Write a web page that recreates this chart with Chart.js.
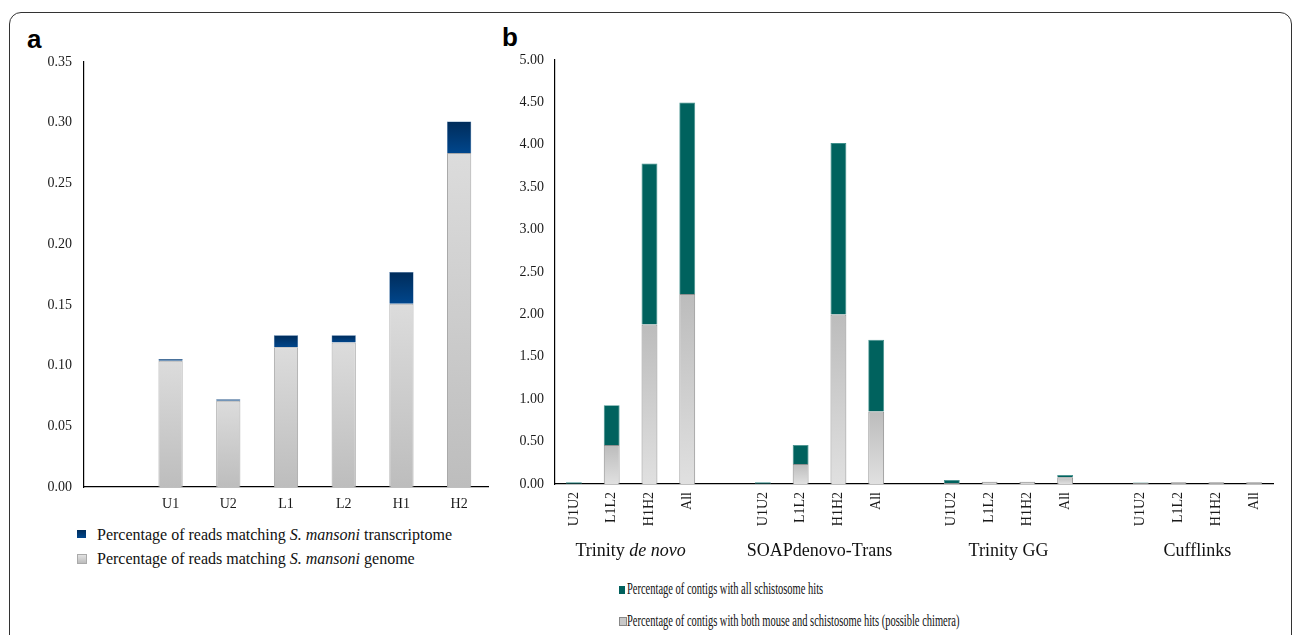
<!DOCTYPE html>
<html lang="en">

<head>
    <meta charset="UTF-8">
    <title>Schistosome reads and contigs</title>
    <style>
        html, body { margin: 0; padding: 0; background: #fff; overflow: hidden; }
        body { width: 1296px; height: 635px; position: relative; font-family: 'Liberation Serif', 'Times New Roman', serif; color: #111; }
        .frame { position: absolute; left: 9px; top: 12px; width: 1281px; height: 660px; border: 1.5px solid #333; border-radius: 12px; }
        .panel-tag { position: absolute; font: bold 26px 'Liberation Sans', Arial, sans-serif; color: #000; }
        .box { position: absolute; }
        .leg { position: absolute; white-space: nowrap; }
        .sw { position: absolute; }
        .cond { display: inline-block; transform: scaleX(0.655); transform-origin: 0 50%; font-size: 16px; }
    </style>
</head>

<body>
    <div class="frame"></div>
    <div class="panel-tag" style="left:27px; top:24px;">a</div>
    <div class="panel-tag" style="left:502px; top:22px;">b</div>

    <div class="box" style="left:0px; top:40px; width:500px; height:480px;">
        <canvas id="chartA"></canvas>
    </div>
    <div class="box" style="left:500px; top:40px; width:790px; height:540px;">
        <canvas id="chartB"></canvas>
    </div>

    <!-- legend a -->
    <div class="sw" style="left:77px; top:530px; width:9px; height:8px; background:linear-gradient(#002c5a,#00468c);"></div>
    <div class="leg" style="left:97px; top:526px; font-size:16px;">Percentage of reads matching <i>S. mansoni</i> transcriptome</div>
    <div class="sw" style="left:77px; top:554px; width:8px; height:8px; background:linear-gradient(#e2e2e2,#bcbcbc); border:0.5px solid #aaa;"></div>
    <div class="leg" style="left:97px; top:550px; font-size:16px;">Percentage of reads matching <i>S. mansoni</i> genome</div>

    <!-- legend b -->
    <div class="sw" style="left:619px; top:586px; width:6px; height:8px; background:#00605c;"></div>
    <div class="leg" style="left:627px; top:580px;"><span class="cond">Percentage of contigs with all schistosome hits</span></div>
    <div class="sw" style="left:619px; top:617px; width:6px; height:7px; background:#c8c8c8; border:0.5px solid #888;"></div>
    <div class="leg" style="left:627px; top:612px;"><span class="cond">Percentage of contigs with both mouse and schistosome hits (possible chimera)</span></div>

    <script src="https://cdn.jsdelivr.net/npm/chart.js/dist/chart.umd.min.js"></script>
    <script>
        // ---- panel a data ----
        const samplesA = ['', 'U1', 'U2', 'L1', 'L2', 'H1', 'H2'];
        const genomeA = [null, 0.104, 0.071, 0.115, 0.119, 0.151, 0.275];
        const transcriptomeA = [null, 0.0015, 0.0012, 0.010, 0.006, 0.026, 0.026];

        // ---- panel b data ----
        const libsB = ['U1U2', 'L1L2', 'H1H2', 'All'];
        const assemblersB = ['Trinity de novo', 'SOAPdenovo-Trans', 'Trinity GG', 'Cufflinks'];
        // possible chimera (grey, bottom)
        const chimeraTrinity = [0.003, 0.46, 1.88, 2.24];
        const chimeraSoap = [0.003, 0.235, 2.00, 0.855];
        const chimeraGG = [0.012, 0.027, 0.027, 0.08];
        const chimeraCuff = [0.012, 0.02, 0.02, 0.02];
        // all schistosome hits (teal, top)
        const schistoTrinity = [0.017, 0.47, 1.90, 2.26];
        const schistoSoap = [0.017, 0.225, 2.02, 0.845];
        const schistoGG = [0.035, 0, 0, 0.027];
        const schistoCuff = [0.006, 0, 0, 0];

        Chart.defaults.font.family = "'Liberation Serif', 'Times New Roman', serif";
        Chart.defaults.color = '#1a1a1a';
        Chart.defaults.animation = false;

        // vertical gradient for one bar, from value v0 to v1
        function barGrad(ctx, v0, v1, cTop, cBot, fallback) {
            const chart = ctx.chart;
            const y = chart.scales.y;
            if (!y || v1 == null) return fallback;
            const top = y.getPixelForValue(v1), bot = y.getPixelForValue(v0);
            if (!isFinite(top) || !isFinite(bot) || top === bot) return fallback;
            const g = chart.ctx.createLinearGradient(0, top, 0, bot);
            g.addColorStop(0, cTop);
            g.addColorStop(1, cBot);
            return g;
        }

        // ---- chart a ----
        new Chart(document.getElementById('chartA'), {
            type: 'bar',
            data: {
                labels: samplesA,
                datasets: [{
                    label: 'Percentage of reads matching S. mansoni genome',
                    data: genomeA,
                    backgroundColor: (c) => barGrad(c, 0, genomeA[c.dataIndex], '#dcdcdc', '#bdbdbd', '#cfcfcf'),
                    borderColor: '#a8a8a8',
                    borderWidth: 1,
                    borderSkipped: 'bottom',
                    categoryPercentage: 1,
                    barPercentage: 0.42
                }, {
                    label: 'Percentage of reads matching S. mansoni transcriptome',
                    data: transcriptomeA,
                    backgroundColor: (c) => {
                        const g = genomeA[c.dataIndex];
                        return barGrad(c, g, g + transcriptomeA[c.dataIndex], '#002c5a', '#00468c', '#003a78');
                    },
                    borderColor: '#2a5f99',
                    borderWidth: 0.5,
                    categoryPercentage: 1,
                    barPercentage: 0.42
                }]
            },
            options: {
                responsive: true,
                maintainAspectRatio: false,
                layout: { padding: { top: 22, right: 12, left: 0, bottom: 0 } },
                plugins: { legend: { display: false }, tooltip: { enabled: false } },
                scales: {
                    x: {
                        stacked: true,
                        grid: { display: false, drawTicks: false },
                        border: { display: true, color: '#000', width: 1.2 },
                        ticks: { font: { size: 14 }, padding: 9, autoSkip: false, maxRotation: 0 },
                        afterFit: (s) => { s.height = 33; }
                    },
                    y: {
                        stacked: true,
                        min: 0,
                        max: 0.35,
                        grid: { display: false, drawTicks: false },
                        border: { display: true, color: '#000', width: 1.2 },
                        ticks: { stepSize: 0.05, font: { size: 14 }, padding: 12, callback: (v) => v.toFixed(2) },
                        afterFit: (s) => { s.width = 84; }
                    }
                }
            }
        });

        // ---- chart b ----
        const chimeraGroups = [chimeraTrinity, chimeraSoap, chimeraGG, chimeraCuff];
        const schistoGroups = [schistoTrinity, schistoSoap, schistoGG, schistoCuff];
        const labelsB = [], chimeraB = [], schistoB = [], groupIdx = [];
        assemblersB.forEach((name, gi) => {
            if (gi > 0) { labelsB.push(''); chimeraB.push(null); schistoB.push(null); }
            const first = labelsB.length;
            libsB.forEach((lib, li) => {
                labelsB.push(lib);
                chimeraB.push(chimeraGroups[gi][li]);
                schistoB.push(schistoGroups[gi][li]);
            });
            groupIdx.push([first, labelsB.length - 1]);
        });

        const groupNames = {
            id: 'groupNames',
            afterDraw(chart) {
                const { ctx, chartArea, scales } = chart;
                const y = chartArea.bottom + 67;
                ctx.save();
                ctx.fillStyle = '#111';
                ctx.textBaseline = 'middle';
                ctx.textAlign = 'left';
                const normal = "18px 'Liberation Serif', 'Times New Roman', serif";
                const italic = "italic 18px 'Liberation Serif', 'Times New Roman', serif";
                assemblersB.forEach((name, gi) => {
                    const [a, b] = groupIdx[gi];
                    const cx = (scales.x.getPixelForValue(a) + scales.x.getPixelForValue(b)) / 2;
                    let parts = [[name, normal]];
                    if (name === 'Trinity de novo') parts = [['Trinity ', normal], ['de novo', italic]];
                    let w = 0;
                    parts.forEach(([t, f]) => { ctx.font = f; w += ctx.measureText(t).width; });
                    let x = cx - w / 2;
                    parts.forEach(([t, f]) => { ctx.font = f; ctx.fillText(t, x, y); x += ctx.measureText(t).width; });
                });
                ctx.restore();
            }
        };

        new Chart(document.getElementById('chartB'), {
            type: 'bar',
            data: {
                labels: labelsB,
                datasets: [{
                    label: 'Percentage of contigs with both mouse and schistosome hits (possible chimera)',
                    data: chimeraB,
                    backgroundColor: (c) => barGrad(c, 0, chimeraB[c.dataIndex], '#bcbcbc', '#e0e0e0', '#c4c4c4'),
                    borderColor: '#8e8e8e',
                    borderWidth: 1,
                    borderSkipped: 'bottom',
                    categoryPercentage: 1,
                    barPercentage: 0.42
                }, {
                    label: 'Percentage of contigs with all schistosome hits',
                    data: schistoB,
                    backgroundColor: '#00625e',
                    borderColor: '#3f8f8b',
                    borderWidth: 0.8,
                    categoryPercentage: 1,
                    barPercentage: 0.42
                }]
            },
            options: {
                responsive: true,
                maintainAspectRatio: false,
                layout: { padding: { top: 20, right: 17, left: 0, bottom: 0 } },
                plugins: { legend: { display: false }, tooltip: { enabled: false } },
                scales: {
                    x: {
                        stacked: true,
                        grid: { display: false, drawTicks: false },
                        border: { display: true, color: '#000', width: 1.2 },
                        ticks: { font: { size: 14 }, padding: 8, autoSkip: false, minRotation: 90, maxRotation: 90 },
                        afterFit: (s) => { s.height = 96; }
                    },
                    y: {
                        stacked: true,
                        min: 0,
                        max: 5,
                        grid: { display: false, drawTicks: false },
                        border: { display: true, color: '#000', width: 1.2 },
                        ticks: { stepSize: 0.5, font: { size: 14 }, padding: 11, callback: (v) => v.toFixed(2) },
                        afterFit: (s) => { s.width = 55; }
                    }
                }
            },
            plugins: [groupNames]
        });
    </script>
</body>

</html>
